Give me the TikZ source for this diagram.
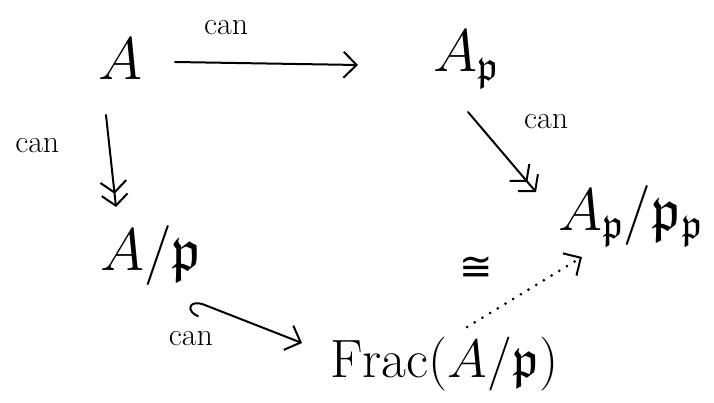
\RequirePackage{fix-cm}
\documentclass[tikz,border=0pt]{standalone}
\usepackage{amssymb}
\usepackage{fontspec}
\newfontfamily\symfnt{DejaVu Sans}
\usetikzlibrary{arrows.meta}
\begin{document}
\begin{tikzpicture}[x=1pt,y=-1pt,
  obj/.style={anchor=base west, inner sep=0pt, font=\fontsize{60}{60}\selectfont},
  lbl/.style={inner sep=0pt, font=\fontsize{32}{32}\selectfont},
  tipa/.tip={Straight Barb[length=13pt,width=26pt,line width=2pt]},
  arr/.style={line width=2pt, line cap=round, -{tipa}},
  surj/.style={line width=2pt, line cap=round, -{tipa[length=11pt] tipa[length=11pt]}},
  inj/.style={line width=2pt, line cap=round, {Hooks[left,length=12pt,width=28pt,line width=2pt]}-{tipa}},
  dotarr/.style={line width=3pt, line cap=round, dash pattern=on 0pt off 9pt, -{tipa}}]
\useasboundingbox (0,0) rectangle (714,403);
\node[obj] (A) at (98,80) {$A$};
\node[obj] (Ap) at (433,72) {$A_{\mathfrak p}$};
\node[obj] (Aq) at (100,270) {$A/\mathfrak p$};
\node[obj] (Aqq) at (558,230) {$A_{\mathfrak p}/\mathfrak p_{\mathfrak p}$};
\node[obj, font=\fontsize{54}{54}\selectfont] (F) at (330,377) {$\mathrm{Frac}(A/\mathfrak p)$};
\draw[arr] ([shift={(77,-18)}]A.base west) -- node[lbl,pos=0.28,yshift=35pt]{can} ([shift={(-75,-7)}]Ap.base west);
\draw[surj] ([shift={(8,35)}]A.base west) -- node[lbl,pos=0.33,xshift=-72pt]{can} ([shift={(16,-63)}]Aq.base west);
\draw[surj] ([shift={(35,40)}]Ap.base west) -- node[lbl,pos=0.15,xshift=68pt,yshift=2pt]{can} ([shift={(-22,-38)}]Aqq.base west);
\draw[inj] ([shift={(92,30)}]Aq.base west) -- node[lbl,pos=0.1,xshift=-12pt,yshift=-34pt]{can} ([shift={(-28,-34)}]F.base west);
\draw[dotarr] ([shift={(137,-50)}]F.base west) -- node[lbl,pos=0.2,xshift=-14pt,yshift=44pt,font=\fontsize{40}{40}\symfnt]{≅} ([shift={(24,27)}]Aqq.base west);
\end{tikzpicture}
\end{document}
